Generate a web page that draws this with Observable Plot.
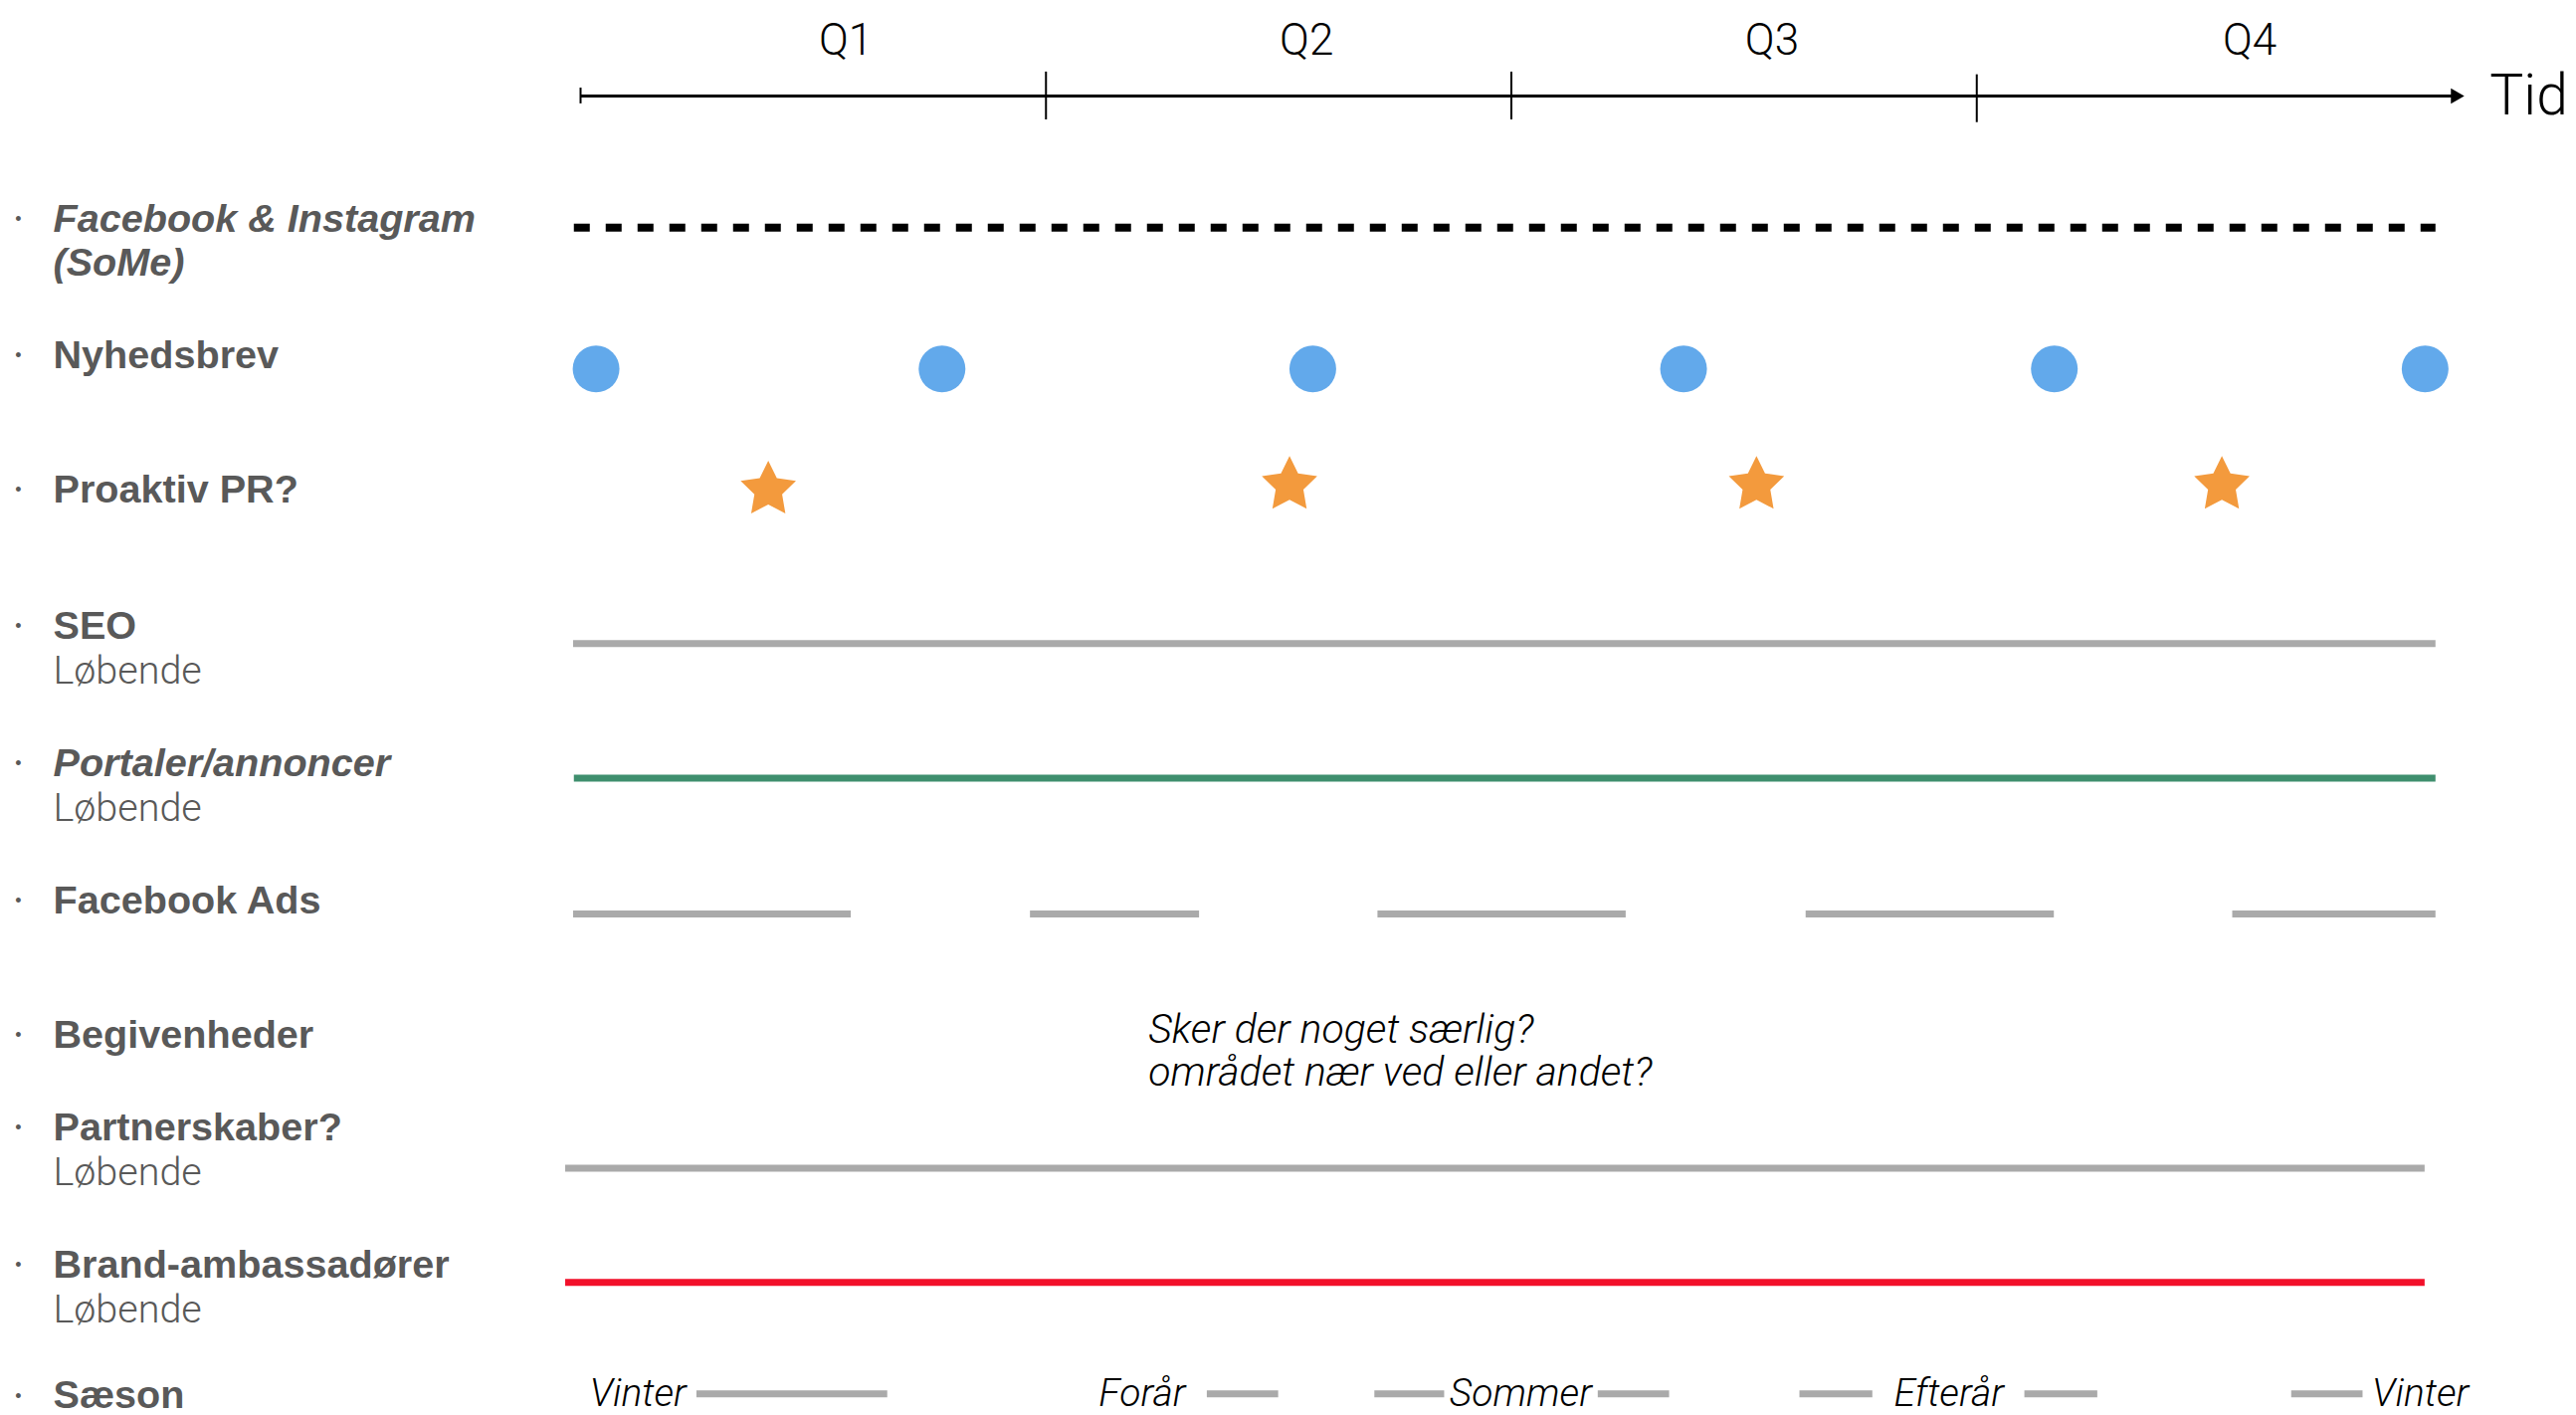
<!DOCTYPE html>
<html><head><meta charset="utf-8">
<script src="https://cdn.jsdelivr.net/npm/d3@7"></script>
<script src="https://cdn.jsdelivr.net/npm/@observablehq/plot@0.6"></script>
<style>html,body{margin:0;padding:0;background:#fff;} #chart svg{display:block}</style>
</head><body><div id="chart"></div>
<script>
// ---- data (x in months, y in row "lanes") ----
const quarterNames = ["Q1", "Q2", "Q3", "Q4"];
const quarterLabelMonth = [1.71, 4.68, 7.68, 10.76];
const quarterBoundaries = [0, 3, 6, 9];
const timeLabel = "Tid";
const axisEndMonth = 12.14;

const rowNames = ["Facebook & Instagram", "Nyhedsbrev", "Proaktiv PR?", "SEO", "Portaler/annoncer", "Facebook Ads", "Begivenheder", "Partnerskaber?", "Brand-ambassadører", "Sæson"];
const rowLanes = [0, 1, 1.99, 2.99, 4, 5.01, 6, 6.68, 7.69, 8.655];
const rowItalic = [true, false, false, false, true, false, false, false, false, false];
const rowSecondLine = ["(SoMe)", "", "", "", "", "", "", "", "", ""];
const rowSubtitle = ["", "", "", "Løbende", "Løbende", "", "", "Løbende", "Løbende", ""];

const someStart = -0.04, someEnd = 11.96, someLane = 0.06;
const newsletterMonths = [0.10, 2.33, 4.72, 7.11, 9.50, 11.89];
const newsletterLane = 1.10;
const prMonths = [1.21, 4.57, 7.58, 10.58];
const prLanes = [1.99, 1.955, 1.955, 1.955];

const runningNames = ["SEO", "Portaler/annoncer", "Partnerskaber?", "Brand-ambassadører"];
const runningStart = [-0.045, -0.04, -0.096, -0.096];
const runningEnd = [11.96, 11.96, 11.89, 11.89];
const runningLane = [3.12, 4.11, 6.98, 7.82];

const fbAdsStart = [-0.045, 2.90, 5.14, 7.90, 10.65];
const fbAdsEnd = [1.745, 3.99, 6.74, 9.50, 11.96];
const fbAdsLane = 5.11;

const noteLines = ["Sker der noget særlig?", "området nær ved eller andet?"];
const noteMonth = 3.66;
const noteLanes = [5.96, 6.28];

const seasonNames = ["Vinter", "Forår", "Sommer", "Efterår", "Vinter"];
const seasonLabelMonth = [0.37, 3.62, 6.06, 8.82, 11.86];
const seasonBarStart = [0.75, 4.04, 5.12, 6.56, 7.86, 9.31, 11.03];
const seasonBarEnd = [1.98, 4.50, 5.57, 7.02, 8.33, 9.78, 11.49];
const seasonLane = 8.64;

const axisLane = -0.908;
const quarterLabelLane = -1.318;

// ---- styles ----
const labelColor = "#595959";
const boldFont = "Liberation Sans, Arial, Helvetica, sans-serif";
const lightFont = "Roboto, Liberation Sans, Arial, sans-serif";
const runningColors = ["#aaaaaa", "#3f8f6e", "#aaaaaa", "#f2102a"];
const laneOffsetSub = 0.33;
const labelSize = 39.6;

// a plump five-pointed star symbol (inner/outer radius ratio 0.5)
const plumpStar = {
  draw(context, size) {
    const R = Math.sqrt(size * 0.89), rIn = R * 0.5;
    for (let i = 0; i < 10; ++i) {
      const a = -Math.PI / 2 + i * Math.PI / 5, rr = i % 2 ? rIn : R;
      const px = rr * Math.cos(a), py = rr * Math.sin(a);
      if (i === 0) context.moveTo(px, py); else context.lineTo(px, py);
    }
    context.closePath();
  }
};

// ---- derived tables ----
const rows = rowNames.map((name, i) => ({name, lane: rowLanes[i], italic: rowItalic[i], second: rowSecondLine[i], sub: rowSubtitle[i]}));
const running = runningNames.map((name, i) => ({name, start: runningStart[i], end: runningEnd[i], lane: runningLane[i], color: runningColors[i]}));
const fbAds = fbAdsStart.map((s, i) => ({start: s, end: fbAdsEnd[i], lane: fbAdsLane}));
const seasonBars = seasonBarStart.map((s, i) => ({start: s, end: seasonBarEnd[i], lane: seasonLane}));
const seasons = seasonNames.map((name, i) => ({name, month: seasonLabelMonth[i], lane: seasonLane}));
const quarters = quarterNames.map((name, i) => ({name, month: quarterLabelMonth[i], lane: quarterLabelLane}));
const ticks = quarterBoundaries.map((m, i) => ({month: m, half: i === 0 ? 0.058 : 0.176, lane: axisLane + (i === 3 ? 0.02 : 0)}));
const newsletter = newsletterMonths.map(m => ({month: m, lane: newsletterLane}));
const pr = prMonths.map((m, i) => ({month: m, lane: prLanes[i]}));
const note = noteLines.map((t, i) => ({text: t, month: noteMonth, lane: noteLanes[i]}));

const chart = Plot.plot({
  width: 2589,
  height: 1422,
  margin: 0,
  x: {domain: [0, 12], range: [583, 2454], axis: null},
  y: {domain: [0, 9], range: [220, 220 + 9 * 136.6], axis: null},
  style: {background: "#fff"},
  marks: [
    // time axis
    Plot.ruleY([{lane: axisLane, start: 0, end: axisEndMonth - 0.05}], {y: "lane", x1: "start", x2: "end", stroke: "#000", strokeWidth: 3}),
    Plot.dot([{lane: axisLane, head: axisEndMonth - 0.055}], {x: "head", y: "lane", symbol: "triangle", rotate: 90, r: 5.8, fill: "#000", stroke: "none"}),
    Plot.ruleX(ticks, {x: "month", y1: d => d.lane - d.half, y2: d => d.lane + d.half, stroke: "#000", strokeWidth: 2}),
    Plot.text(quarters, {x: "month", y: "lane", text: "name", fontSize: 44, fontFamily: lightFont, fontWeight: 300, fill: "#000"}),
    Plot.text([{t: timeLabel, month: axisEndMonth, lane: axisLane}], {x: "month", y: "lane", text: "t", dx: 26, textAnchor: "start", fontSize: 57, fontFamily: lightFont, fontWeight: 300, fill: "#000"}),

    // row labels
    Plot.text(rows, {frameAnchor: "left", dx: 18, y: "lane", text: () => "•", fontSize: 18, fill: labelColor, textAnchor: "middle", fontFamily: boldFont}),
    Plot.text(rows.filter(d => d.italic), {frameAnchor: "left", dx: 53, y: "lane", text: "name", textAnchor: "start", fontSize: labelSize, fontWeight: "bold", fontStyle: "italic", fontFamily: boldFont, fill: labelColor}),
    Plot.text(rows.filter(d => !d.italic), {frameAnchor: "left", dx: 53, y: "lane", text: "name", textAnchor: "start", fontSize: labelSize, fontWeight: "bold", fontFamily: boldFont, fill: labelColor}),
    Plot.text(rows.filter(d => d.second), {frameAnchor: "left", dx: 53, y: d => d.lane + 0.322, text: "second", textAnchor: "start", fontSize: labelSize, fontWeight: "bold", fontStyle: "italic", fontFamily: boldFont, fill: labelColor}),
    Plot.text(rows.filter(d => d.sub), {frameAnchor: "left", dx: 53, y: d => d.lane + laneOffsetSub, text: "sub", textAnchor: "start", fontSize: 39.5, fontWeight: 300, fontFamily: lightFont, fill: labelColor}),

    // Facebook & Instagram (SoMe): dashed line
    Plot.ruleY([{lane: someLane, start: someStart, end: someEnd}], {y: "lane", x1: "start", x2: "end", stroke: "#000", strokeWidth: 8, strokeDasharray: "16,16", strokeLinecap: "butt"}),

    // Nyhedsbrev: dots
    Plot.dot(newsletter, {x: "month", y: "lane", r: 23.5, fill: "#62a9eb", stroke: "none"}),

    // Proaktiv PR: stars
    Plot.dot(pr, {x: "month", y: "lane", symbol: plumpStar, r: 17.5, fill: "#f39a3d", stroke: "none"}),

    // continuous lines
    Plot.ruleY(running, {y: "lane", x1: "start", x2: "end", stroke: "color", strokeWidth: 7, strokeLinecap: "butt"}),

    // Facebook Ads segments
    Plot.ruleY(fbAds, {y: "lane", x1: "start", x2: "end", stroke: "#aaaaaa", strokeWidth: 7, strokeLinecap: "butt"}),

    // Begivenheder note
    Plot.text(note, {x: "month", y: "lane", text: "text", textAnchor: "start", fontSize: 41, fontStyle: "italic", fontWeight: 300, fontFamily: lightFont, fill: "#000"}),

    // Sæson
    Plot.ruleY(seasonBars, {y: "lane", x1: "start", x2: "end", stroke: "#aaaaaa", strokeWidth: 7, strokeLinecap: "butt"}),
    Plot.text(seasons, {x: "month", y: "lane", text: "name", fontSize: 39, fontStyle: "italic", fontWeight: 300, fontFamily: lightFont, fill: "#000"})
  ]
});
document.getElementById("chart").appendChild(chart);
</script></body></html>
